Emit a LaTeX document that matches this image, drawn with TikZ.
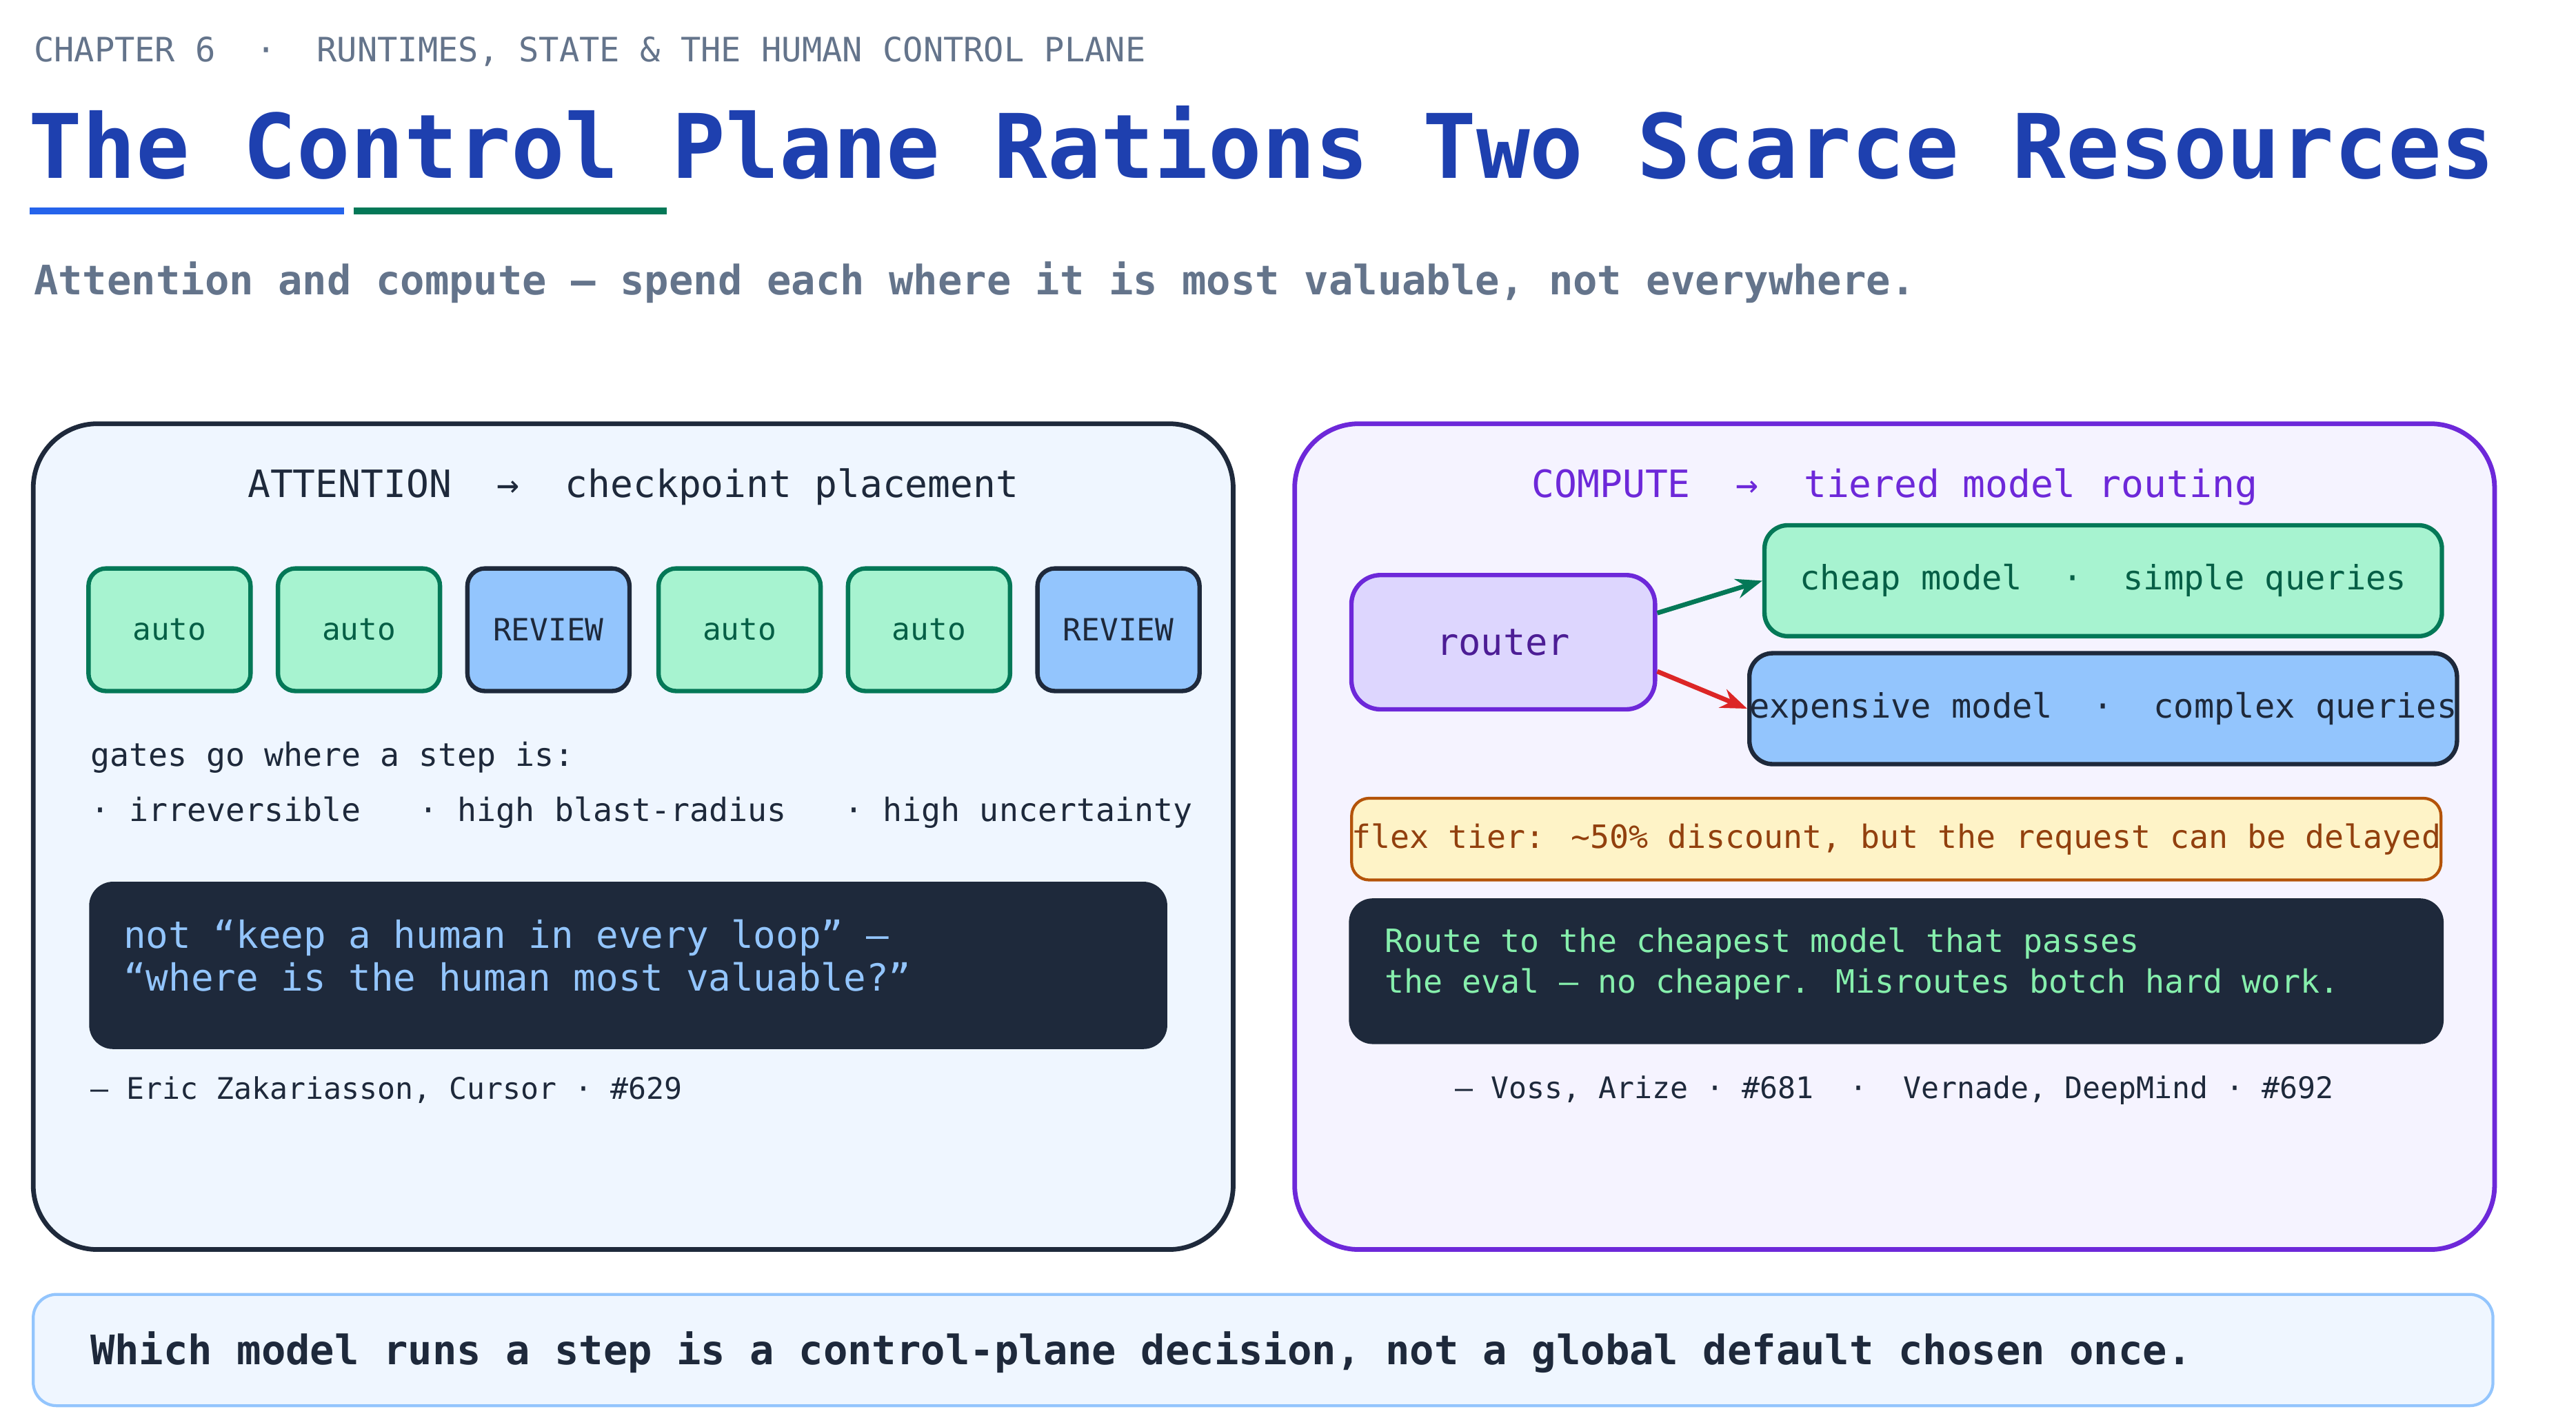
\documentclass[tikz,border=0pt]{standalone}
\usepackage{fontspec}
\setmainfont{DejaVu Sans Mono}
\setmonofont{DejaVu Sans Mono}
\usetikzlibrary{arrows.meta,positioning}
\definecolor{ink}{HTML}{1E293B}
\definecolor{slate}{HTML}{64748B}
\definecolor{titleblue}{HTML}{1E40AF}
\definecolor{lineblue}{HTML}{2563EB}
\definecolor{green}{HTML}{047857}
\definecolor{mint}{HTML}{A7F3D0}
\definecolor{mintink}{HTML}{065F46}
\definecolor{sky}{HTML}{93C5FD}
\definecolor{paleblue}{HTML}{EFF6FF}
\definecolor{palepurple}{HTML}{F5F3FF}
\definecolor{purple}{HTML}{6D28D9}
\definecolor{lilac}{HTML}{DDD6FE}
\definecolor{lilacink}{HTML}{4C1D95}
\definecolor{amber}{HTML}{FEF3C7}
\definecolor{amberline}{HTML}{B45309}
\definecolor{amberink}{HTML}{92400E}
\definecolor{lime}{HTML}{86EFAC}
\definecolor{red}{HTML}{DC2626}
\tikzset{
  panel/.style={rounded corners=22pt, line width=1.6pt},
  gatebox/.style={rounded corners=6pt, line width=1.5pt, minimum width=55.5pt,
    minimum height=42pt, inner sep=0pt, font=\fontsize{10.5}{12}\selectfont},
  autobox/.style={gatebox, draw=green, fill=mint, text=mintink},
  reviewbox/.style={gatebox, draw=ink, fill=sky, text=ink},
  dark/.style={rounded corners=8pt, fill=ink, draw=ink},
  note/.style={text=ink, font=\fontsize{10.2}{12}\selectfont},
}
\begin{document}
\begin{tikzpicture}[x=0.02cm, y=-0.02cm]
  \useasboundingbox (0,0) rectangle (1550,853);
  % header
  \node (chap) [anchor=west, text=slate, font=\fontsize{11.5}{13}\selectfont, inner sep=0pt]
    at (20,31) {CHAPTER 6 \ · \ RUNTIMES, STATE \& THE HUMAN CONTROL PLANE};
  \node (title) [anchor=west, text=titleblue, font=\fontsize{30.5}{34}\bfseries\selectfont, inner sep=0pt]
    at (17,86) {The Control Plane Rations Two Scarce Resources};
  \draw[lineblue, line width=2.2pt] (18,127) -- (207,127);
  \draw[green, line width=2.2pt] (213,127) -- (401,127);
  \node (sub) [anchor=west, text=slate, font=\fontsize{13.9}{16}\bfseries\selectfont, inner sep=0pt]
    at (20,170) {Attention and compute — spend each where it is most valuable, not everywhere.};

  % attention panel
  \draw[panel, draw=ink, fill=paleblue] (20,255) rectangle (742,752);
  \node (atthead) [text=ink, font=\fontsize{12.9}{15}\selectfont] at (381,293)
    {ATTENTION \ → \ checkpoint placement};
  \node (s1) [autobox]   at (102,379) {auto};
  \node (s2) [autobox]   at (216,379) {auto};
  \node (s3) [reviewbox] at (330,379) {REVIEW};
  \node (s4) [autobox]   at (445,379) {auto};
  \node (s5) [autobox]   at (559,379) {auto};
  \node (s6) [reviewbox] at (673,379) {REVIEW};
  \node (gates) [anchor=west, inner sep=0pt, text=ink, font=\fontsize{11}{13}\selectfont] at (54,456)
    {gates go where a step is:};
  \node (risks) [anchor=west, inner sep=0pt, text=ink, font=\fontsize{11}{13}\selectfont] at (54,489)
    {· irreversible \ \ · high blast-radius \ \ · high uncertainty};
  \draw[dark] (54,531) rectangle (702,631);
  \node (quote) [anchor=west, align=left, text=sky, font=\fontsize{12.8}{14.5}\selectfont, inner sep=0pt] at (74,575)
    {not “keep a human in every loop” —\\“where is the human most valuable?”};
  \node (eric) [note, anchor=west, inner sep=0pt] at (54,656) {— Eric Zakariasson, Cursor · \#629};

  % compute panel
  \draw[panel, draw=purple, fill=palepurple] (779,255) rectangle (1501,752);
  \node (comphead) [text=purple, font=\fontsize{12.9}{15}\selectfont] at (1140,293)
    {COMPUTE \ → \ tiered model routing};
  \node (router) [draw=purple, fill=lilac, text=lilacink, rounded corners=10pt, line width=1.5pt,
    minimum width=104pt, minimum height=46pt, font=\fontsize{12.7}{15}\selectfont] at (904.5,386.5) {router};
  \node (cheap) [draw=green, fill=mint, text=mintink, rounded corners=8pt, line width=1.5pt,
    minimum width=232pt, minimum height=38pt, font=\fontsize{11.5}{13}\selectfont] at (1265.5,349.5)
    {cheap model \ · \ simple queries};
  \node (exp) [draw=ink, fill=sky, text=ink, rounded corners=8pt, line width=1.5pt,
    minimum width=232pt, minimum height=38pt, inner sep=0pt, font=\fontsize{11.5}{13}\selectfont] at (1265.5,426.5)
    {expensive model \ · \ complex queries};
  \draw[-{Stealth[length=9pt]}, green, line width=1.6pt] ([yshift=10pt]router.east) -- (cheap.west);
  \draw[-{Stealth[length=9pt]}, red, line width=1.6pt] ([yshift=-10pt]router.east) -- (exp.west);
  \node (flex) [draw=amberline, fill=amber, text=amberink, rounded corners=6pt, line width=1pt,
    minimum width=373pt, minimum height=28pt, inner sep=0pt, font=\fontsize{11}{13}\selectfont] at (1141,505)
    {flex tier: \textasciitilde50\% discount, but the request can be delayed};
  \draw[dark] (812,541) rectangle (1470,628);
  \node (route) [anchor=west, align=left, text=lime, font=\fontsize{11}{14}\selectfont, inner sep=0pt] at (833,580)
    {Route to the cheapest model that passes\\the eval — no cheaper. Misroutes botch hard work.};
  \node (voss) [note] at (1140,656) {— Voss, Arize · \#681 \ · \ Vernade, DeepMind · \#692};

  % footer
  \draw[rounded corners=8pt, draw=sky, fill=paleblue, line width=1pt] (20,779) rectangle (1500,846);
  \node (foot) [anchor=west, inner sep=0pt, text=ink, font=\fontsize{13.9}{16}\bfseries\selectfont] at (54,814)
    {Which model runs a step is a control-plane decision, not a global default chosen once.};
\end{tikzpicture}
\end{document}
